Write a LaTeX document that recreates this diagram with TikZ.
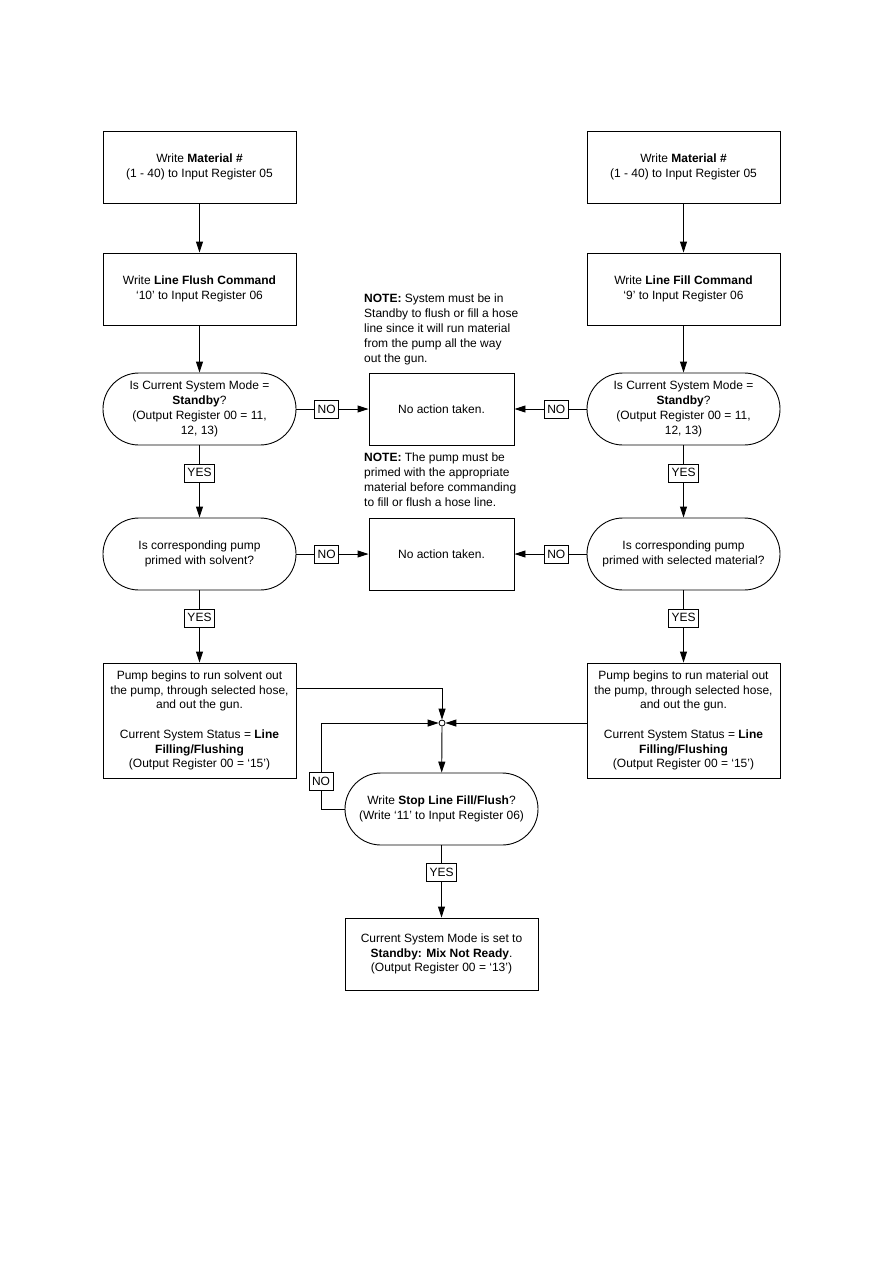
\documentclass[tikz,border=0pt]{standalone}
\usepackage{fontspec}
\setmainfont{Liberation Sans}
\usepackage{tikz}
\usetikzlibrary{arrows.meta, positioning}

\begin{document}
\begin{tikzpicture}[x=1pt, y=-1pt,
    stepbox/.style={rectangle, draw, line width=0.9pt, minimum width=193pt, minimum height=72pt, inner sep=1pt, align=center, font=\fontsize{12}{14.8}\selectfont},
    query/.style={stepbox, rounded corners=35.9pt},
    tag/.style={rectangle, draw, fill=white, line width=0.7pt, inner xsep=3pt, inner ysep=2pt, minimum height=18pt, font=\fontsize{12}{12}\selectfont},
    note/.style={anchor=north west, align=left, inner sep=0pt, font=\fontsize{12}{14.8}\selectfont},
    arrow/.style={-{Triangle[length=11pt, width=7pt]}, line width=0.9pt}
]
\useasboundingbox (0,0) rectangle (893,1263);
% left column: flush
\node[stepbox] (matl) at (199.5,167) {Write \textbf{Material \#}\\(1 - 40) to Input Register 05};
\node[stepbox] (flush) at (199.5,289) {Write \textbf{Line Flush Command}\\‘10’ to Input Register 06};
\node[query] (stbyl) at (199.5,409) {Is Current System Mode =\\\textbf{Standby}?\\(Output Register 00 = 11,\\12, 13)};
\node[query] (primel) at (199.5,554) {Is corresponding pump\\primed with solvent?};
\node[stepbox, minimum height=115pt] (runl) at (199.5,720.5) {Pump begins to run solvent out\\the pump, through selected hose,\\and out the gun.\\[14.6pt]Current System Status = \textbf{Line}\\\textbf{Filling/Flushing}\\(Output Register 00 = ‘15’)};
% right column: fill
\node[stepbox] (matr) at (683.5,167) {Write \textbf{Material \#}\\(1 - 40) to Input Register 05};
\node[stepbox] (fill) at (683.5,289) {Write \textbf{Line Fill Command}\\‘9’ to Input Register 06};
\node[query] (stbyr) at (683.5,409) {Is Current System Mode =\\\textbf{Standby}?\\(Output Register 00 = 11,\\12, 13)};
\node[query] (primer) at (683.5,554) {Is corresponding pump\\primed with selected material?};
\node[stepbox, minimum height=115pt] (runr) at (683.5,720.5) {Pump begins to run material out\\the pump, through selected hose,\\and out the gun.\\[14.6pt]Current System Status = \textbf{Line}\\\textbf{Filling/Flushing}\\(Output Register 00 = ‘15’)};
% middle
\node[stepbox, minimum width=145pt] (noact1) at (441.5,409) {No action taken.};
\node[stepbox, minimum width=145pt] (noact2) at (441.5,554) {No action taken.};
\node[note] (note1) at (364,294) {\textbf{NOTE:} System must be in\\Standby to flush or fill a hose\\line since it will run material\\from the pump all the way\\out the gun.};
\node[note] (note2) at (364,453) {\textbf{NOTE:} The pump must be\\primed with the appropriate\\material before commanding\\to fill or flush a hose line.};
\node[circle, draw, fill=white, line width=0.8pt, inner sep=0pt, minimum size=6pt] (join) at (442,723) {};
\coordinate (loop) at (321,723);
\node[query] (stop) at (441.5,809) {Write \textbf{Stop Line Fill/Flush}?\\(Write ‘11’ to Input Register 06)};
\node[stepbox] (ready) at (441.5,954) {Current System Mode is set to\\\textbf{Standby: Mix Not Ready}.\\(Output Register 00 = ‘13’)};

\draw[arrow] (matl) -- (flush);
\draw[arrow] (flush) -- (stbyl);
\draw[arrow] (stbyl) -- node[tag, pos=0.38] {YES} (primel);
\draw[arrow] (primel) -- node[tag, pos=0.38] {YES} (runl);
\draw[arrow] (matr) -- (fill);
\draw[arrow] (fill) -- (stbyr);
\draw[arrow] (stbyr) -- node[tag, pos=0.38] {YES} (primer);
\draw[arrow] (primer) -- node[tag, pos=0.38] {YES} (runr);
\draw[arrow] (stbyl) -- node[tag, pos=0.42] {NO} (noact1);
\draw[arrow] (stbyr) -- node[tag, pos=0.42] {NO} (noact1);
\draw[arrow] (primel) -- node[tag, pos=0.42] {NO} (noact2);
\draw[arrow] (primer) -- node[tag, pos=0.42] {NO} (noact2);
\draw[arrow] ([yshift=32.5pt]runl.east) -| (join);
\draw[arrow] (runr.west |- join) -- (join);
\draw[arrow] (stop.west) -| node[tag, pos=0.66] {NO} (loop) -- (join);
\draw[arrow] (join) -- (stop);
\draw[arrow] (stop) -- node[tag, pos=0.37] {YES} (ready);
\end{tikzpicture}
\end{document}
